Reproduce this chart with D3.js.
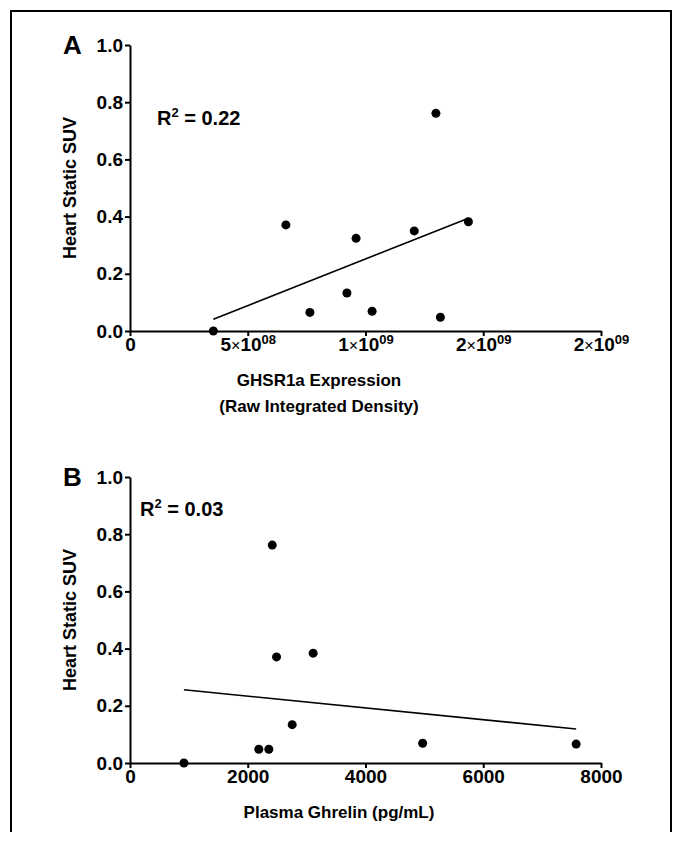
<!DOCTYPE html>
<html>
<head>
<meta charset="utf-8">
<script src="https://cdn.jsdelivr.net/npm/d3@7"></script>
<style>
  body { margin: 0; background: #fff; }
  svg { font-family: "Liberation Sans", Arial, sans-serif; }
  .axis text { font-weight: bold; font-size: 19px; fill: #000; }
  .axis path, .axis line { stroke: #000; stroke-width: 2px; }
</style>
</head>
<body>
<svg id="chart"></svg>
<script>
const width = 673;
const height = 841;

// Panel A: GHSR1a expression vs heart SUV
const ghsrExpression = [3.54e8, 6.62e8, 7.64e8, 9.21e8, 9.6e8, 1.028e9, 1.207e9, 1.299e9, 1.318e9, 1.437e9];
const suvA = [0, 0.371, 0.065, 0.133, 0.324, 0.069, 0.350, 0.761, 0.048, 0.382];
const xTicksA = [0, 5e8, 1e9, 1.5e9, 2e9];
const xTickLabelsA = [["0", ""], ["5×10", "08"], ["1×10", "09"], ["2×10", "09"], ["2×10", "09"]];

// Panel B: plasma ghrelin vs heart SUV
const ghrelin = [916, 2188, 2358, 2755, 2416, 2489, 3111, 4971, 7578];
const suvB = [0, 0.048, 0.048, 0.134, 0.762, 0.371, 0.384, 0.069, 0.066];
const xTicksB = [0, 2000, 4000, 6000, 8000];

const yTicks = [0, 0.2, 0.4, 0.6, 0.8, 1.0];

const svg = d3.select("#chart")
  .attr("width", width)
  .attr("height", height);

// frame
svg.append("path")
  .attr("d", `M11,832 L11,11 L671,11 L671,832`)
  .attr("fill", "none")
  .attr("stroke", "#000")
  .attr("stroke-width", 2);

function fitLine(xs, ys) {
  const mx = d3.mean(xs), my = d3.mean(ys);
  let sxy = 0, sxx = 0, syy = 0;
  xs.forEach((x, i) => {
    sxy += (x - mx) * (ys[i] - my);
    sxx += (x - mx) ** 2;
    syy += (ys[i] - my) ** 2;
  });
  const slope = sxy / sxx;
  return { slope, intercept: my - slope * mx, r2: (sxy * sxy) / (sxx * syy) };
}

function drawPanel(opt) {
  const g = svg.append("g");
  const x = d3.scaleLinear().domain(opt.xDomain).range([130, 601]);
  const y = d3.scaleLinear().domain([0, 1]).range([opt.y0, opt.y0 - 286]);

  g.append("g")
    .attr("class", "axis")
    .attr("transform", "translate(130,0)")
    .call(d3.axisLeft(y).tickValues(yTicks).tickFormat(d3.format(".1f"))
      .tickSize(5).tickSizeOuter(0).tickPadding(2));

  const xAxis = g.append("g")
    .attr("class", "axis")
    .attr("transform", `translate(0,${opt.y0})`)
    .call(d3.axisBottom(x).tickValues(opt.xTicks)
      .tickFormat(d => d).tickSize(5).tickSizeOuter(0).tickPadding(2));

  if (opt.xLabels) {
    xAxis.selectAll(".tick text").each(function (d, i) {
      const t = d3.select(this).text("");
      const [base, sup] = opt.xLabels[i];
      if (base.includes("×")) {
        const parts = base.split("×");
        t.append("tspan").text(parts[0]);
        t.append("tspan").text("×").attr("font-weight", "normal").attr("font-size", 16);
        t.append("tspan").text(parts[1]);
      } else {
        t.append("tspan").text(base);
      }
      if (sup) t.append("tspan").text(sup).attr("font-size", 13).attr("dy", -7);
    });
  }

  // y axis title
  g.append("text")
    .attr("transform", `translate(76,${opt.y0 - 143}) rotate(-90)`)
    .attr("text-anchor", "middle")
    .attr("font-weight", "bold")
    .attr("font-size", 18)
    .text("Heart Static SUV");

  // panel letter
  g.append("text")
    .attr("x", 63)
    .attr("y", opt.y0 - 277)
    .attr("font-weight", "bold")
    .attr("font-size", 26)
    .text(opt.letter);

  // x axis title
  opt.xTitle.forEach((line, i) => {
    g.append("text")
      .attr("x", opt.xTitleX)
      .attr("y", opt.xTitleY + i * 26)
      .attr("text-anchor", "middle")
      .attr("font-weight", "bold")
      .attr("font-size", 17)
      .text(line);
  });

  // regression line
  const fit = fitLine(opt.xs, opt.ys);
  const x1 = d3.min(opt.xs), x2 = d3.max(opt.xs);
  g.append("line")
    .attr("x1", x(x1)).attr("y1", y(fit.intercept + fit.slope * x1))
    .attr("x2", x(x2)).attr("y2", y(fit.intercept + fit.slope * x2))
    .attr("stroke", "#000")
    .attr("stroke-width", 1.6);

  g.selectAll("circle")
    .data(opt.xs)
    .enter().append("circle")
    .attr("cx", d => x(d))
    .attr("cy", (d, i) => y(opt.ys[i]))
    .attr("r", 4.5)
    .attr("fill", "#000");

  // R squared
  const r = g.append("text")
    .attr("x", opt.rX)
    .attr("y", opt.rY)
    .attr("font-weight", "bold")
    .attr("font-size", 20);
  r.append("tspan").text("R");
  r.append("tspan").text("2").attr("font-size", 13).attr("dy", -8);
  r.append("tspan").text(" = " + fit.r2.toFixed(2)).attr("dy", 8);
}

drawPanel({
  letter: "A",
  y0: 331,
  xDomain: [0, 2e9],
  xTicks: xTicksA,
  xLabels: xTickLabelsA,
  xs: ghsrExpression,
  ys: suvA,
  xTitle: ["GHSR1a Expression", "(Raw Integrated Density)"],
  xTitleX: 319,
  xTitleY: 386,
  rX: 157,
  rY: 125
});

drawPanel({
  letter: "B",
  y0: 763,
  xDomain: [0, 8000],
  xTicks: xTicksB,
  xLabels: null,
  xs: ghrelin,
  ys: suvB,
  xTitle: ["Plasma Ghrelin (pg/mL)"],
  xTitleX: 339,
  xTitleY: 818,
  rX: 140,
  rY: 516
});
</script>
</body>
</html>
